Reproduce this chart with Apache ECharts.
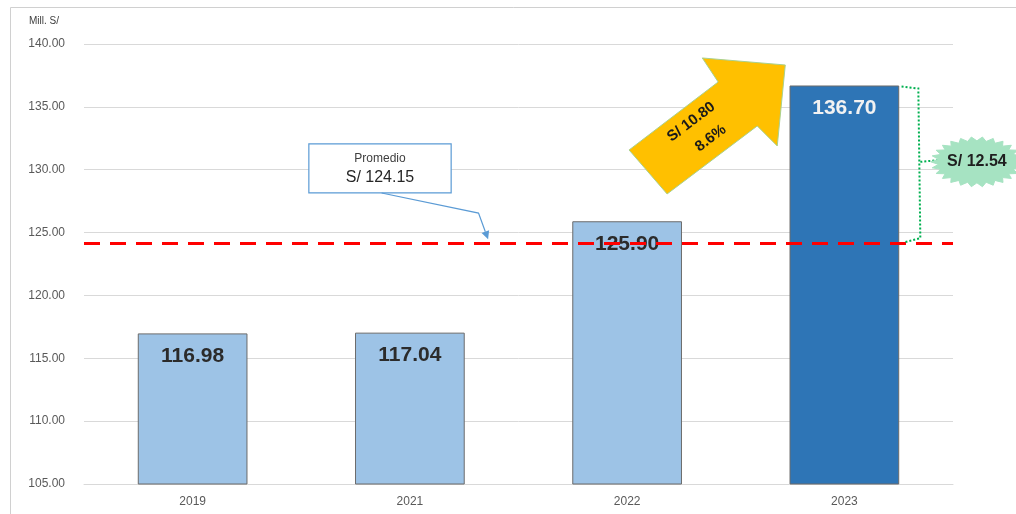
<!DOCTYPE html>
<html>
<head>
<meta charset="utf-8">
<script src="https://cdn.jsdelivr.net/npm/echarts@6/dist/echarts.min.js"></script>
<style>
html,body{margin:0;padding:0;background:#fff;}
#chart{width:1016px;height:514px;}
</style>
</head>
<body>
<div id="chart"></div>
<script>
const categories = ['2019', '2021', '2022', '2023'];
const values = [116.98, 117.04, 125.90, 136.70];
const yTicks = [105, 110, 115, 120, 125, 130, 135, 140];
const average = 124.15;
const growthText = ['S/ 10.80', '8.6%'];
const gapText = 'S/ 12.54';
const unitLabel = 'Mill. S/';

const NARROW = '"Liberation Sans Narrow", "Arial Narrow", "Liberation Sans", Arial, sans-serif';

const chart = echarts.init(document.getElementById('chart'), null, {renderer: 'canvas'});

const barData = values.map((v, i) => {
  const last = i === values.length - 1;
  return {
    value: v,
    itemStyle: {
      color: last ? '#2E75B6' : '#9DC3E6',
      borderColor: '#6b6b6b',
      borderWidth: 1
    },
    label: {color: last ? '#F2F2F2' : '#2b2b2b'}
  };
});

chart.setOption({
  animation: false,
  backgroundColor: '#ffffff',
  title: {
    text: unitLabel,
    left: 24, top: 11,
    textStyle: {fontFamily: NARROW, fontSize: 10, fontWeight: 'normal', color: '#404040'}
  },
  grid: {left: 84, right: 63, top: 44, bottom: 30, containLabel: false},
  xAxis: {
    type: 'category',
    data: categories,
    axisLine: {show: true, lineStyle: {color: '#d9d9d9', width: 1}},
    axisTick: {show: false},
    axisLabel: {color: '#595959', fontSize: 12, fontFamily: NARROW, margin: 12}
  },
  yAxis: {
    type: 'value',
    min: yTicks[0], max: yTicks[yTicks.length - 1], interval: 5,
    axisLine: {show: false},
    axisTick: {show: false},
    splitLine: {lineStyle: {color: '#d9d9d9', width: 1}},
    axisLabel: {color: '#595959', fontSize: 12, fontFamily: NARROW, margin: 19,
      formatter: v => v.toFixed(2)}
  },
  series: [{
    type: 'bar',
    data: barData,
    barWidth: '50.5%',
    label: {
      show: true, position: 'insideTop', distance: 12,
      fontSize: 21, fontWeight: 'bold', fontFamily: NARROW,
      formatter: p => p.value.toFixed(2)
    },
    markLine: {
      silent: true,
      symbol: ['none', 'none'],
      label: {show: false},
      lineStyle: {color: '#FF0000', type: [16, 10], width: 3},
      data: [{yAxis: average}]
    }
  }]
});

function P(catFrac, val) {
  const a = chart.convertToPixel({gridIndex: 0}, [0, val]);
  const b = chart.convertToPixel({gridIndex: 0}, [1, val]);
  return [a[0] + (b[0] - a[0]) * catFrac, a[1]];
}

// Average callout box
const boxTL = P(0.535, 132.05), boxBR = P(1.19, 128.15);
const avgY = P(0, average)[1];
const c1 = P(0.87, 128.15), c2 = P(1.316, 126.55), tip = P(1.36, average);
tip[1] = avgY - 4;
const ang = Math.atan2(tip[1] - c2[1], tip[0] - c2[0]);
const ah = 8, aw = 4;
const headBase = [tip[0] - ah * Math.cos(ang), tip[1] - ah * Math.sin(ang)];
const headPts = [
  tip,
  [headBase[0] + aw * Math.sin(ang), headBase[1] - aw * Math.cos(ang)],
  [headBase[0] - aw * Math.sin(ang), headBase[1] + aw * Math.cos(ang)]
];

// Yellow growth arrow (shape in category/value space)
const arrowPts = [
  [2.009, 131.57], [2.419, 136.98], [2.346, 138.89], [2.728, 138.33],
  [2.691, 131.89], [2.599, 133.48], [2.184, 128.07]
].map(p => P(p[0], p[1]));
const t1 = P(2.295, 133.8), t2 = P(2.385, 132.5);
const rot = 37 * Math.PI / 180;

// Green bracket from 2023 bar top to average line
const lastTop = P(3, values[3]);
const barRight = P(3.254, values[3]);
const bx = P(3.345, 0)[0];
const midY = P(0, (values[3] + average) / 2 + 0.2)[1];
const bracket = [
  [barRight[0] + 2, lastTop[1] + 1], [bx - 1, lastTop[1] + 3],
  [bx + 1, avgY - 5], [barRight[0] + 5, avgY - 1]
];
const branch = [[bx + 1, midY], [bx + 22, midY - 2]];

// Starburst
const cx = P(3.61, 0)[0], cy = midY;
const burst = [];
const N = 26;
for (let i = 0; i < 2 * N; i++) {
  const a = Math.PI * i / N;
  const r = i % 2 === 0 ? 1 : 0.84;
  burst.push([cx + 46 * r * Math.cos(a), cy + 25 * r * Math.sin(a)]);
}

chart.setOption({
  graphic: [
    {type: 'rect', shape: {x: 10.5, y: 7.5, width: 1100, height: 600},
      style: {fill: 'none', stroke: '#d0d0d0', lineWidth: 1}, silent: true, z: 0},
    {type: 'rect', shape: {x: boxTL[0], y: boxTL[1], width: boxBR[0] - boxTL[0], height: boxBR[1] - boxTL[1]},
      style: {fill: '#ffffff', stroke: '#5B9BD5', lineWidth: 1.2}, z: 20},
    {type: 'text', x: (boxTL[0] + boxBR[0]) / 2, y: boxTL[1] + 15, z: 21,
      style: {text: 'Promedio', fontSize: 12, fontFamily: NARROW, fill: '#404040', align: 'center', verticalAlign: 'middle'}},
    {type: 'text', x: (boxTL[0] + boxBR[0]) / 2, y: boxTL[1] + 34, z: 21,
      style: {text: 'S/ ' + average.toFixed(2), fontSize: 16, fontFamily: NARROW, fill: '#262626', align: 'center', verticalAlign: 'middle'}},
    {type: 'polyline', shape: {points: [c1, c2, headBase]}, style: {stroke: '#5B9BD5', lineWidth: 1.2, fill: 'none'}, z: 20},
    {type: 'polygon', shape: {points: headPts}, style: {fill: '#5B9BD5'}, z: 20},

    {type: 'polygon', shape: {points: arrowPts}, style: {fill: '#FFC000', stroke: '#A9D18E', lineWidth: 1}, z: 20},
    {type: 'text', x: t1[0], y: t1[1], rotation: rot, z: 21,
      style: {text: growthText[0], fontSize: 15, fontWeight: 'bold', fontFamily: NARROW, fill: '#1a1a1a', align: 'center', verticalAlign: 'middle'}},
    {type: 'text', x: t2[0], y: t2[1], rotation: rot, z: 21,
      style: {text: growthText[1], fontSize: 15, fontWeight: 'bold', fontFamily: NARROW, fill: '#1a1a1a', align: 'center', verticalAlign: 'middle'}},

    {type: 'polyline', shape: {points: bracket}, style: {stroke: '#00B050', lineWidth: 2, lineDash: [2, 2], fill: 'none'}, z: 20},
    {type: 'polyline', shape: {points: branch}, style: {stroke: '#00B050', lineWidth: 2, lineDash: [2, 2], fill: 'none'}, z: 20},
    {type: 'polygon', shape: {points: burst}, style: {fill: '#A6E3C2', stroke: '#A6E3C2', lineWidth: 1}, z: 20},
    {type: 'text', x: cx, y: cy, z: 21,
      style: {text: gapText, fontSize: 16, fontWeight: 'bold', fontFamily: NARROW, fill: '#1f1f1f', align: 'center', verticalAlign: 'middle'}}
  ]
});
</script>
</body>
</html>
